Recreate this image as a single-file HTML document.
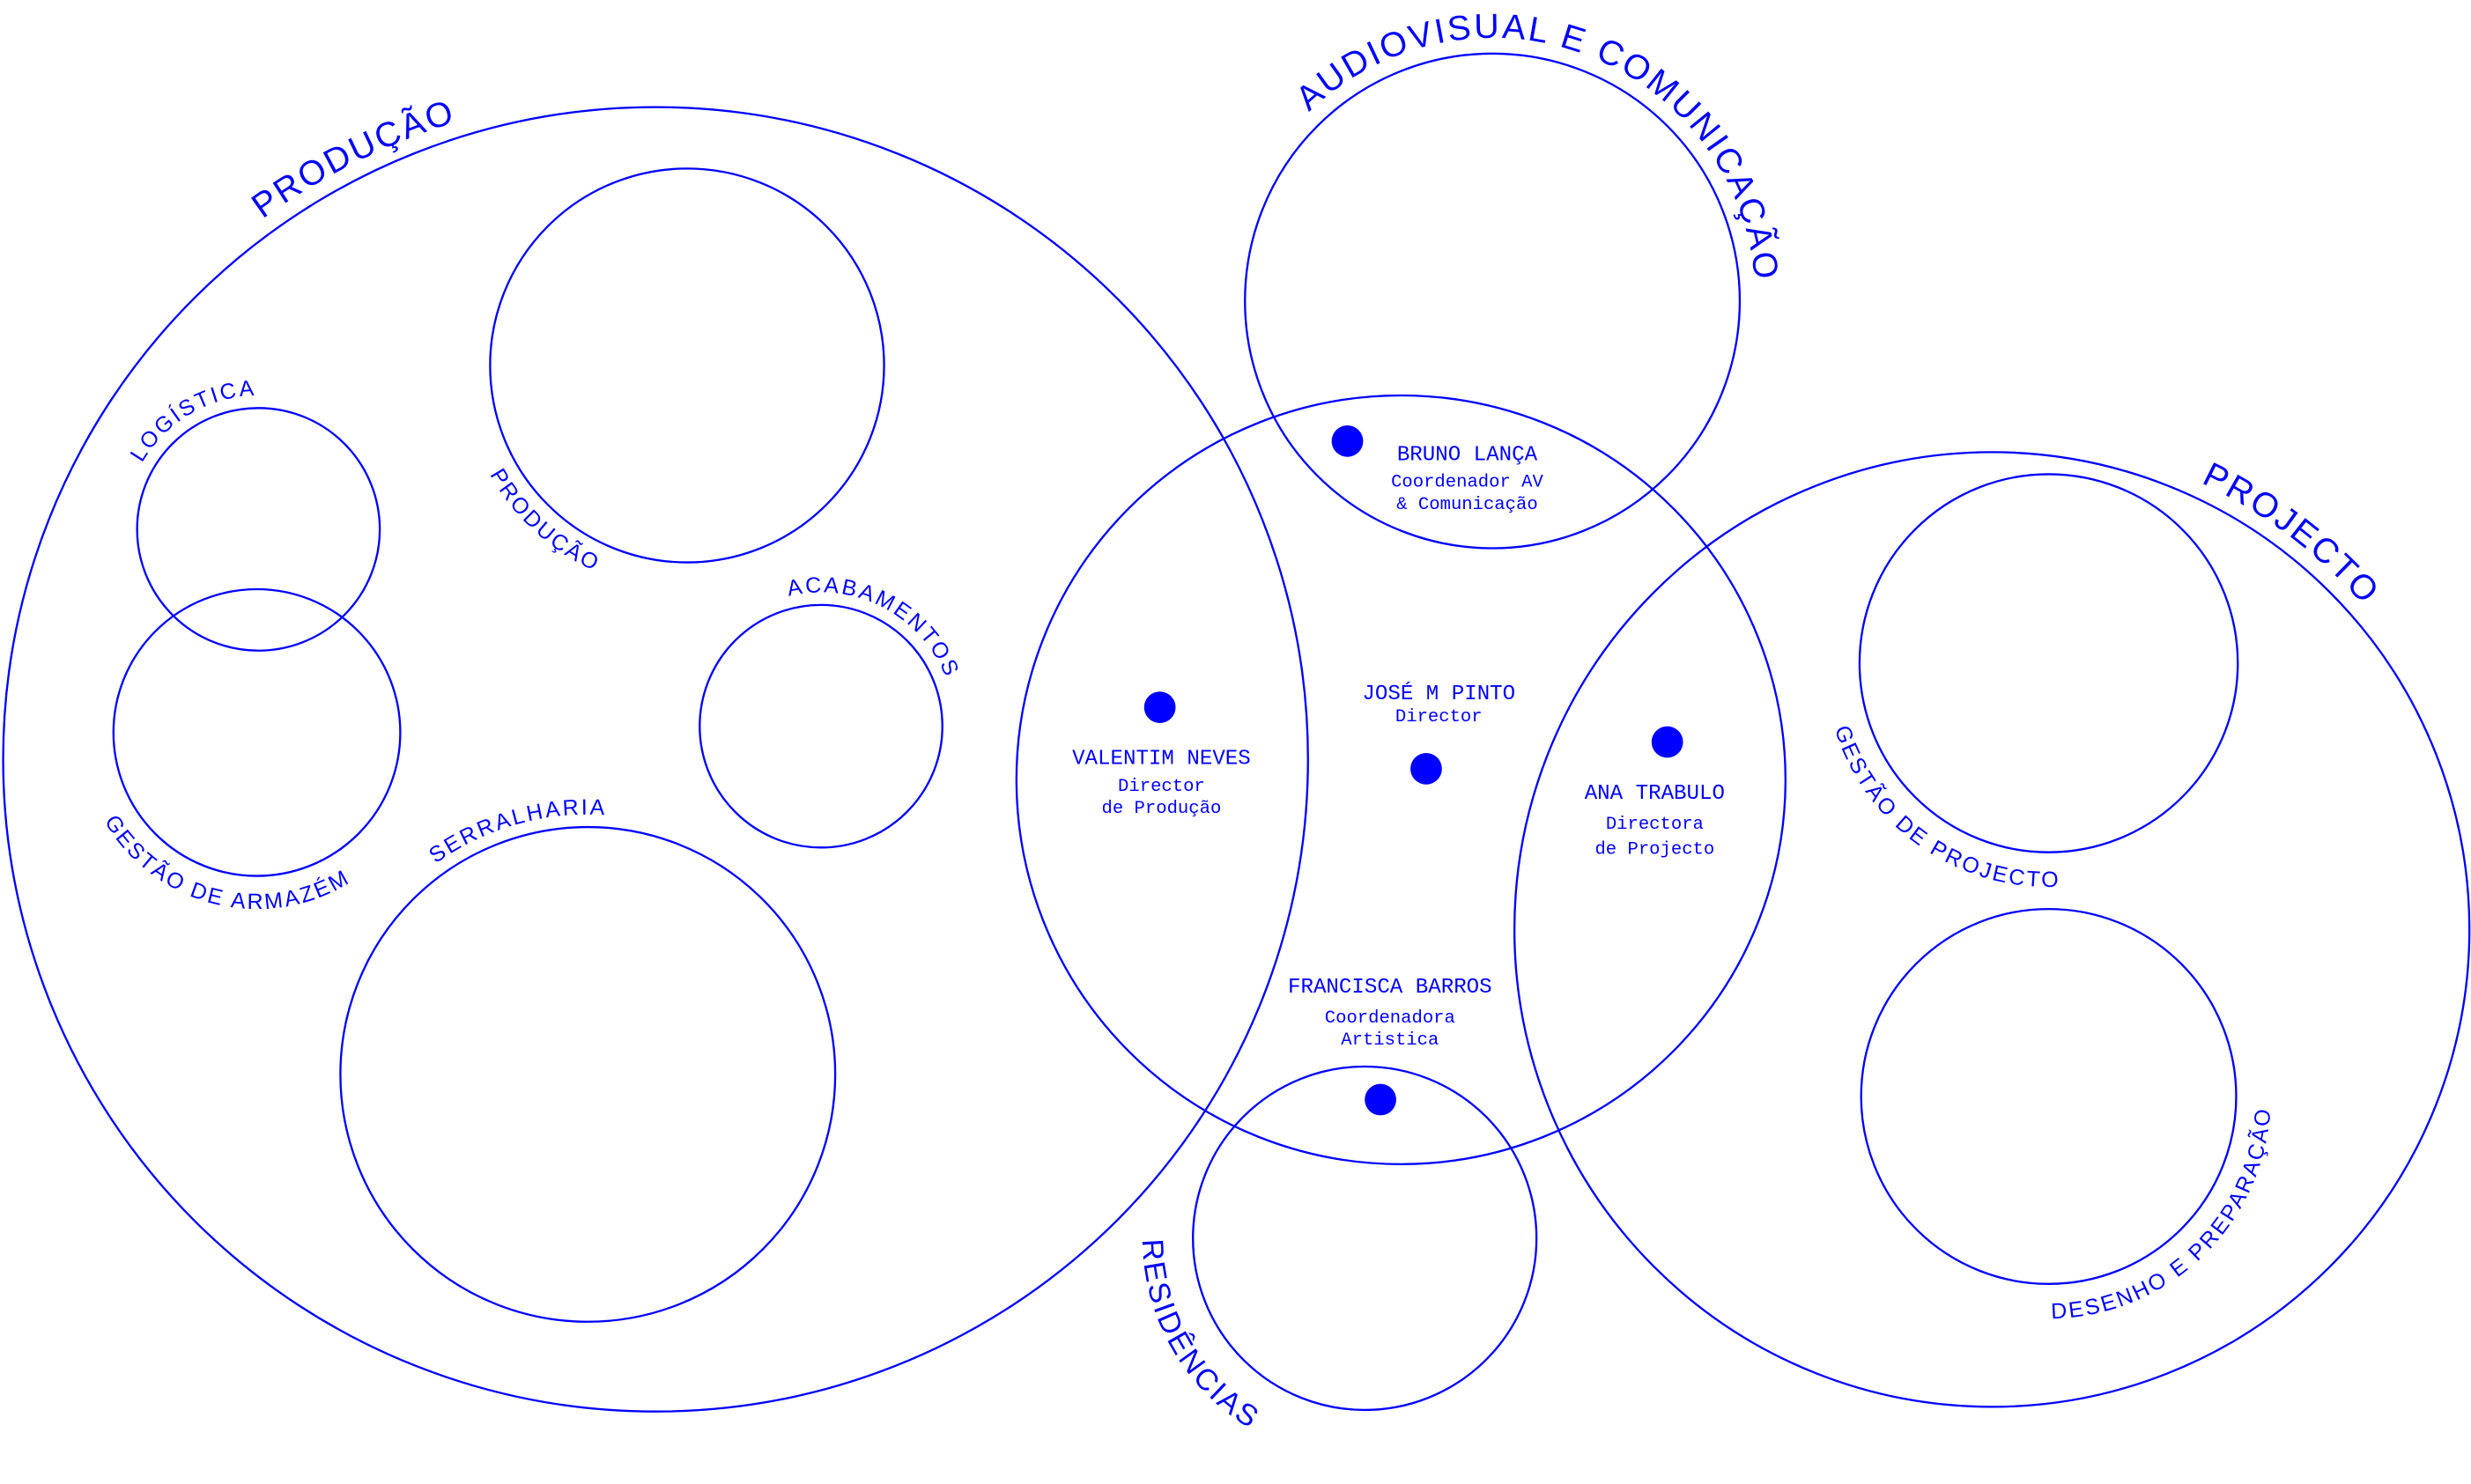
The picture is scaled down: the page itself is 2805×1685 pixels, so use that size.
<!DOCTYPE html>
<html><head><meta charset="utf-8"><style>
html,body{margin:0;padding:0;background:#fff;}
svg{display:block;}
.c{fill:none;stroke:#0000ff;stroke-width:1.3;}
.l{font-family:"Liberation Sans",sans-serif;fill:#0000ff;letter-spacing:1.5px;}
.n{font-family:"Liberation Mono",monospace;fill:#0000ff;text-anchor:middle;}
</style></head><body>
<svg width="2805" height="1685" viewBox="0 0 1568 942" preserveAspectRatio="none" xmlns="http://www.w3.org/2000/svg">
<defs>
<path id="pBig" d="M-8,482 A424,424 0 0 1 840,482 A424,424 0 0 1 -8,482"/>
<path id="pAV" d="M780,191 A167,167 0 0 1 1114,191 A167,167 0 0 1 780,191"/>
<path id="pPJ" d="M951,590 A313,313 0 0 1 1577,590 A313,313 0 0 1 951,590"/>
<path id="pLog" d="M79,336 A85,85 0 0 1 249,336 A85,85 0 0 1 79,336"/>
<path id="pAca" d="M436,461 A85,85 0 0 1 606,461 A85,85 0 0 1 436,461"/>
<path id="pSer" d="M208,682 A165,165 0 0 1 538,682 A165,165 0 0 1 208,682"/>
<path id="pRes" d="M725,786 A141,141 0 0 0 1007,786 A141,141 0 0 0 725,786"/>
<path id="pProd" d="M293,232 A143,143 0 0 0 579,232 A143,143 0 0 0 293,232"/>
<path id="pArm" d="M51,465 A112,112 0 0 0 275,465 A112,112 0 0 0 51,465"/>
<path id="pGP" d="M1158,421 A142,142 0 0 0 1442,421 A142,142 0 0 0 1158,421"/>
<path id="pDes" d="M1159,696 A141,141 0 0 0 1441,696 A141,141 0 0 0 1159,696"/>
</defs>

<circle class="c" cx="416" cy="482" r="414"/>
<circle class="c" cx="947" cy="191" r="157"/>
<circle class="c" cx="889" cy="495" r="244"/>
<circle class="c" cx="1264" cy="590" r="303"/>
<circle class="c" cx="866" cy="786" r="109"/>
<circle class="c" cx="436" cy="232" r="125"/>
<circle class="c" cx="164" cy="336" r="77"/>
<circle class="c" cx="163" cy="465" r="91"/>
<circle class="c" cx="521" cy="461" r="77"/>
<circle class="c" cx="373" cy="682" r="157"/>
<circle class="c" cx="1300" cy="421" r="120"/>
<circle class="c" cx="1300" cy="696" r="119"/>

<g fill="#0000ff">
<circle cx="855" cy="280" r="10"/>
<circle cx="736" cy="449" r="10"/>
<circle cx="905" cy="488" r="10"/>
<circle cx="1058" cy="471" r="10"/>
<circle cx="876" cy="698" r="10"/>
</g>

<g class="l" text-anchor="middle">
<text font-size="22"><textPath href="#pBig" startOffset="17.6%">PRODUÇÃO</textPath></text>
<text font-size="22"><textPath href="#pAV" startOffset="30.8%">AUDIOVISUAL E COMUNICAÇÃO</textPath></text>
<text font-size="22"><textPath href="#pPJ" startOffset="35.3%">PROJECTO</textPath></text>
<text font-size="19"><textPath href="#pRes" startOffset="8.3%">RESIDÊNCIAS</textPath></text>
<text font-size="14"><textPath href="#pLog" startOffset="16.5%">LOGÍSTICA</textPath></text>
<text font-size="14"><textPath href="#pProd" startOffset="13.2%">PRODUÇÃO</textPath></text>
<text font-size="14"><textPath href="#pAca" startOffset="32.7%">ACABAMENTOS</textPath></text>
<text font-size="14"><textPath href="#pArm" startOffset="21.2%">GESTÃO DE ARMAZÉM</textPath></text>
<text font-size="14"><textPath href="#pSer" startOffset="20.6%">SERRALHARIA</textPath></text>
<text font-size="14"><textPath href="#pGP" startOffset="15.3%">GESTÃO DE PROJECTO</textPath></text>
<text font-size="14"><textPath href="#pDes" startOffset="37.2%">DESENHO E PREPARAÇÃO</textPath></text>
</g>

<g class="n">
<text x="931" y="292" font-size="13.5">BRUNO LANÇA</text>
<text x="931" y="309" font-size="11.5">Coordenador AV</text>
<text x="931" y="323" font-size="11.5">&amp; Comunicação</text>
<text x="913" y="444" font-size="13.5">JOSÉ M PINTO</text>
<text x="913" y="458" font-size="11.5">Director</text>
<text x="737" y="485" font-size="13.5">VALENTIM NEVES</text>
<text x="737" y="502" font-size="11.5">Director</text>
<text x="737" y="516" font-size="11.5">de Produção</text>
<text x="1050" y="507" font-size="13.5">ANA TRABULO</text>
<text x="1050" y="526" font-size="11.5">Directora</text>
<text x="1050" y="542" font-size="11.5">de Projecto</text>
<text x="882" y="630" font-size="13.5">FRANCISCA BARROS</text>
<text x="882" y="649" font-size="11.5">Coordenadora</text>
<text x="882" y="663" font-size="11.5">Artistica</text>
</g>
</svg>
</body></html>
